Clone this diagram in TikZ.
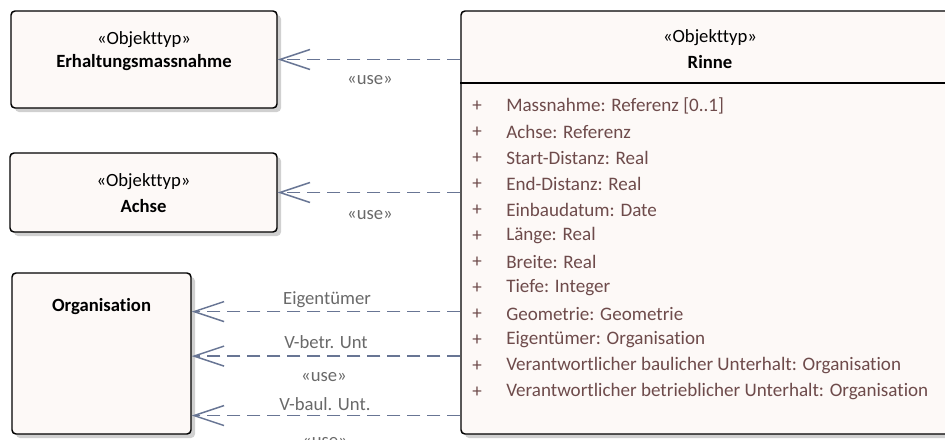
\documentclass[tikz,border=0pt]{standalone}
\usepackage{fontspec}
\setmainfont{Carlito}[Ligatures=NoCommon]
\usetikzlibrary{arrows.meta,shadows,calc}

\begin{document}
\begin{tikzpicture}[x=0.75pt,y=0.75pt,yscale=-1,xscale=1,
  classbox/.style={draw=black, line width=1.1pt, rounded corners=3pt,
    fill={rgb,255:red,253;green,249;blue,247},
    drop shadow={shadow xshift=3pt, shadow yshift=-3pt, fill={rgb,255:red,208;green,208;blue,208}, opacity=1},
    inner sep=0pt},
  usedep/.style={draw={rgb,255:red,104;green,117;blue,148}, line width=1.1pt,
    dash pattern=on 9.75pt off 5.25pt,
    -{Straight Barb[length=22.5pt,width=15pt,line width=1.1pt]}},
  deplabel/.style={text={rgb,255:red,105;green,105;blue,105}, font=\fontsize{14}{16}\selectfont},
  boxtext/.style={font=\fontsize{14}{16}\selectfont},
  boxname/.style={font=\fontsize{14}{16}\selectfont\bfseries},
  attr/.style={text={rgb,255:red,110;green,75;blue,75}, font=\fontsize{14.3}{16}\selectfont, anchor=west, inner sep=0pt}]

\useasboundingbox (0,0) rectangle (945,439);

%Shape: Rectangle
\node[classbox, minimum width=266*0.75pt, minimum height=97*0.75pt] (erh) at (144,59.5) {};
\node[classbox, minimum width=267*0.75pt, minimum height=79*0.75pt] (achse) at (143.5,192.5) {};
\node[classbox, minimum width=179*0.75pt, minimum height=161*0.75pt] (org) at (101.5,353.5) {};
\node[classbox, minimum width=498*0.75pt, minimum height=423*0.75pt] (rinne) at (710,222.5) {};

%Straight Lines
\draw [line width=1.1pt] (rinne.west |- 0,83) -- (rinne.east |- 0,83) ;

\draw (144,40) node [boxtext] {«Objekttyp»};
\draw (144,63) node [boxname] {Erhaltungsmassnahme};
\draw (143.5,182) node [boxtext] {«Objekttyp»};
\draw (143.5,206) node [boxname] {Achse};
\draw (101.5,307) node [boxname] {Organisation};
\draw (710,38) node [boxtext] {«Objekttyp»};
\draw (710,62) node [boxname] {Rinne};

\foreach \txt [count=\i from 0] in {{Massnahme: Referenz [0..1]}, {Achse: Referenz}, {Start-Distanz: Real}, {End-Distanz: Real}, {Einbaudatum: Date}, {Länge: Real}, {Breite: Real}, {Tiefe: Integer}, {Geometrie: Geometrie}, {Eigentümer: Organisation}, {Verantwortlicher baulicher Unterhalt: Organisation}, {Verantwortlicher betrieblicher Unterhalt: Organisation}}
{
  \node [attr] at (472,106+26*\i) {+};
  \node [attr] at (506,106+26*\i) {\txt};
}

%Connectors
\coordinate (o1) at ($(org.north east)!0.242!(org.south east)$);
\coordinate (o2) at ($(org.north east)!0.516!(org.south east)$);
\coordinate (o3) at ($(org.north east)!0.882!(org.south east)$);
\draw [usedep] (rinne.west |- erh.east) -- (erh.east) ;
\draw [usedep] (rinne.west |- achse.east) -- (achse.east) ;
\draw [usedep] (rinne.west |- o1) -- (o1) ;
\draw [usedep] (rinne.west |- o2) -- (o2) ;
\draw [usedep] (rinne.west |- o3) -- (o3) ;

\draw (370,80) node [deplabel] {«use»};
\draw (370,215) node [deplabel] {«use»};
\draw (327,300) node [deplabel] {Eigentümer};
\draw (326,342) node [deplabel] {V-betr. Unt};
\draw (324,377) node [deplabel] {«use»};
\draw (325,404) node [deplabel] {V-baul. Unt.};
\draw (325,442) node [deplabel] {«use»};

\end{tikzpicture}
\end{document}
